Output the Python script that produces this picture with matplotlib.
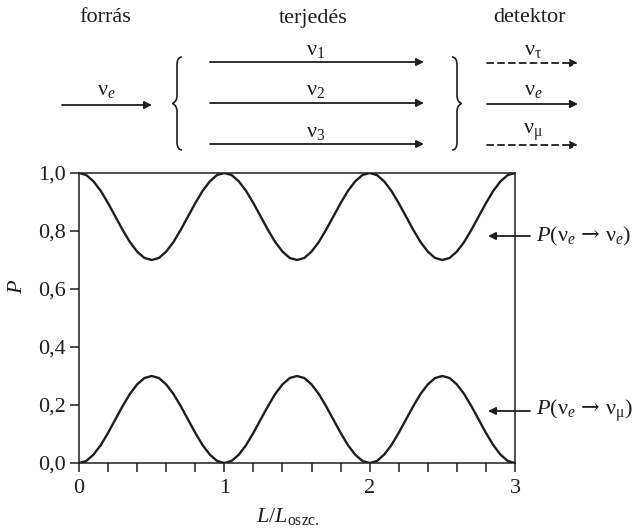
import numpy as np
import matplotlib
matplotlib.use("Agg")
import matplotlib.pyplot as plt
from matplotlib.patches import FancyArrowPatch, PathPatch
from matplotlib.path import Path
from matplotlib.ticker import MultipleLocator, FuncFormatter

plt.rcParams['font.family'] = ['Liberation Serif', 'DejaVu Serif']
plt.rcParams['mathtext.fontset'] = 'custom'
plt.rcParams['mathtext.rm'] = 'Liberation Serif'
plt.rcParams['mathtext.it'] = 'Liberation Serif:italic'
plt.rcParams['mathtext.bf'] = 'Liberation Serif:bold'
plt.rcParams['mathtext.sf'] = 'DejaVu Serif'

# ---- data ----
L_ratio = [0.00, 0.05, 0.10, 0.15, 0.20, 0.25, 0.30, 0.35, 0.40, 0.45,
           0.50, 0.55, 0.60, 0.65, 0.70, 0.75, 0.80, 0.85, 0.90, 0.95,
           1.00, 1.05, 1.10, 1.15, 1.20, 1.25, 1.30, 1.35, 1.40, 1.45,
           1.50, 1.55, 1.60, 1.65, 1.70, 1.75, 1.80, 1.85, 1.90, 1.95,
           2.00, 2.05, 2.10, 2.15, 2.20, 2.25, 2.30, 2.35, 2.40, 2.45,
           2.50, 2.55, 2.60, 2.65, 2.70, 2.75, 2.80, 2.85, 2.90, 2.95,
           3.00]

P_ee = [1.000, 0.993, 0.971, 0.938, 0.896, 0.850, 0.804, 0.762, 0.729, 0.707,
        0.700, 0.707, 0.729, 0.762, 0.804, 0.850, 0.896, 0.938, 0.971, 0.993,
        1.000, 0.993, 0.971, 0.938, 0.896, 0.850, 0.804, 0.762, 0.729, 0.707,
        0.700, 0.707, 0.729, 0.762, 0.804, 0.850, 0.896, 0.938, 0.971, 0.993,
        1.000, 0.993, 0.971, 0.938, 0.896, 0.850, 0.804, 0.762, 0.729, 0.707,
        0.700, 0.707, 0.729, 0.762, 0.804, 0.850, 0.896, 0.938, 0.971, 0.993,
        1.000]

P_emu = [0.000, 0.007, 0.029, 0.062, 0.104, 0.150, 0.196, 0.238, 0.271, 0.293,
         0.300, 0.293, 0.271, 0.238, 0.196, 0.150, 0.104, 0.062, 0.029, 0.007,
         0.000, 0.007, 0.029, 0.062, 0.104, 0.150, 0.196, 0.238, 0.271, 0.293,
         0.300, 0.293, 0.271, 0.238, 0.196, 0.150, 0.104, 0.062, 0.029, 0.007,
         0.000, 0.007, 0.029, 0.062, 0.104, 0.150, 0.196, 0.238, 0.271, 0.293,
         0.300, 0.293, 0.271, 0.238, 0.196, 0.150, 0.104, 0.062, 0.029, 0.007,
         0.000]

x_major = [0, 1, 2, 3]
y_major = [0.0, 0.2, 0.4, 0.6, 0.8, 1.0]

stage_titles = ['forrás', 'terjedés', 'detektor']
mass_states = [r'$\mathrm{\nu}_1$', r'$\mathrm{\nu}_2$', r'$\mathrm{\nu}_3$']
detected = [r'$\mathrm{\nu}_\mathrm{\tau}$', r'$\mathrm{\nu}_e$', r'$\mathrm{\nu}_\mathrm{\mu}$']
curve_labels = [r'$P(\mathrm{\nu}_e\,\mathsf{\rightarrow}\,\mathrm{\nu}_e)$',
                r'$P(\mathrm{\nu}_e\,\mathsf{\rightarrow}\,\mathrm{\nu}_\mathrm{\mu})$']

W, H = 638, 528
INK = '#1e1e1e'
FS = 16

fig = plt.figure(figsize=(W / 100, H / 100), dpi=100)


def px(x, y):
    # pixel position (from top-left) -> figure fraction
    return (x / W, 1 - y / H)


def arrow(x0, x1, y, dashed=False):
    a = FancyArrowPatch(px(x0, y), px(x1, y), transform=fig.transFigure,
                        arrowstyle='-|>', mutation_scale=11, lw=1.3,
                        color=INK, shrinkA=0, shrinkB=0,
                        linestyle=(0, (3.5, 2.5)) if dashed else '-')
    fig.add_artist(a)


def brace(xc, top, bot, side):
    # side=-1: tip points left, side=+1: tip points right
    mid = (top + bot) / 2
    h = 5 * (-side)
    t = 4.5 * side
    verts = [(xc + h, top), (xc, top), (xc, top + 8),
             (xc, mid - 8), (xc, mid - 2), (xc + t, mid),
             (xc, mid + 2), (xc, mid + 8),
             (xc, bot - 8), (xc, bot), (xc + h, bot)]
    codes = [Path.MOVETO, Path.CURVE3, Path.CURVE3,
             Path.LINETO, Path.CURVE3, Path.CURVE3,
             Path.CURVE3, Path.CURVE3,
             Path.LINETO, Path.CURVE3, Path.CURVE3]
    verts = [px(*v) for v in verts]
    fig.add_artist(PathPatch(Path(verts, codes), transform=fig.transFigure,
                             fill=False, lw=1.2, edgecolor=INK))


# ---- top scheme ----
for title, xc in zip(stage_titles, [105, 313, 530]):
    fig.text(*px(xc, 18), title, ha='center', va='center', fontsize=FS, color=INK)

fig.text(*px(106, 90), r'$\mathrm{\nu}_e$', ha='center', va='center', fontsize=FS, color=INK)
arrow(62, 152, 105)

rows = [62, 103, 144]
for lab, y in zip(mass_states, rows):
    fig.text(*px(316, y - 12), lab, ha='center', va='center', fontsize=FS, color=INK)
    arrow(210, 424, y)

for lab, y, dashed in zip(detected, rows, [True, False, True]):
    fig.text(*px(533, y - 12), lab, ha='center', va='center', fontsize=FS, color=INK)
    arrow(487, 578, y + 1, dashed=dashed)

brace(177, 57, 150, -1)
brace(457, 57, 150, +1)

# ---- probability plot ----
ax = fig.add_axes([79 / W, 65 / H, (515 - 79) / W, (463 - 173) / H])
ax.plot(L_ratio, P_ee, color=INK, lw=1.7)
ax.plot(L_ratio, P_emu, color=INK, lw=1.7)
ax.set_xlim(0, 3)
ax.set_ylim(0, 1)

ax.xaxis.set_minor_locator(MultipleLocator(0.2))
ax.set_xticks(x_major)
ax.set_yticks(y_major)
ax.yaxis.set_major_formatter(FuncFormatter(lambda v, p: f'{v:.1f}'.replace('.', ',')))
ax.tick_params(which='both', direction='out', length=6.5, width=1.1, color=INK,
               labelsize=16, labelcolor=INK)
ax.tick_params(axis='x', pad=5)
ax.tick_params(axis='y', pad=3)
for s in ax.spines.values():
    s.set_linewidth(1.1)
    s.set_color(INK)

ax.set_ylabel('$P$', fontsize=FS, color=INK, va='center')
ax.yaxis.set_label_coords(-0.14, 0.61)
ax.set_xlabel(r'$L/L_{\mathrm{oszc.}}$', fontsize=FS, color=INK, va='center')
ax.xaxis.set_label_coords(0.48, -0.185)

for lab, y in zip(curve_labels, [236, 411]):
    a = FancyArrowPatch(px(530, y), px(488, y), transform=fig.transFigure,
                        arrowstyle='-|>', mutation_scale=11, lw=1.3,
                        color=INK, shrinkA=0, shrinkB=0)
    fig.add_artist(a)
    fig.text(*px(536, y), lab, ha='left', va='center', fontsize=FS, color=INK)

fig.savefig('out.png', dpi=100)
